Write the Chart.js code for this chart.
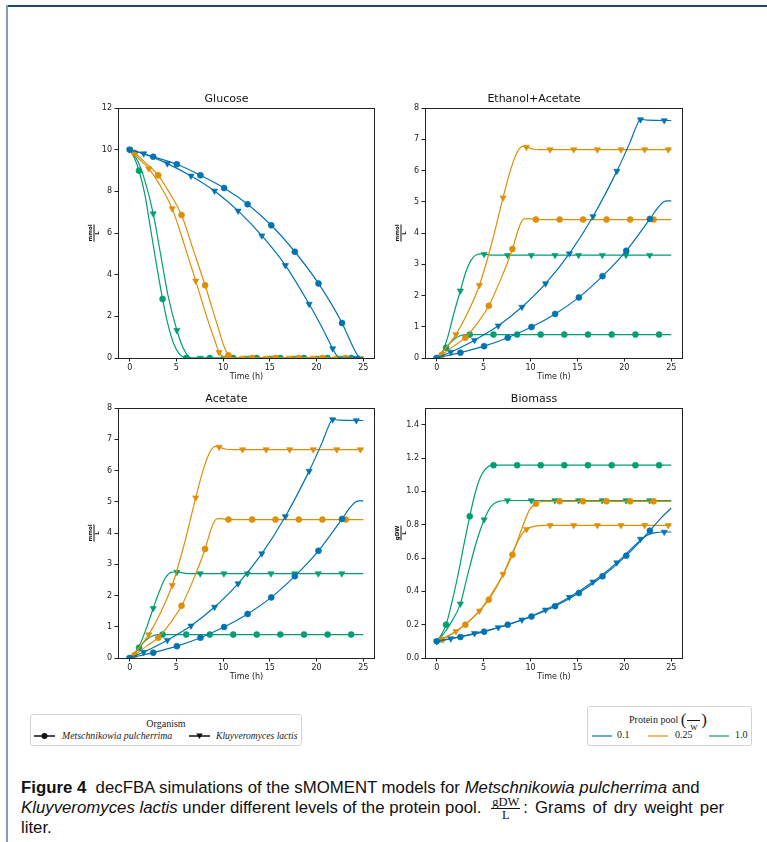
<!DOCTYPE html>
<html>
<head>
<meta charset="utf-8">
<script src="https://cdn.jsdelivr.net/npm/chart.js@4.4.0/dist/chart.umd.min.js"></script>
<style>
  body { margin: 0; width: 767px; height: 842px; background: #fff; position: relative; overflow: hidden; }
  .abs { position: absolute; }
  #frameTop { left: 6px; top: 5px; width: 761px; height: 1.5px; background: #1b4677; }
  #frameLeft { left: 6px; top: 5px; width: 2px; height: 837px; background: #7f9cc1; }
  .panel canvas { display: block; }
  .leg { position: absolute; border: 1px solid #d4d4d4; border-radius: 3px; background: #fff;
         font-family: "Liberation Serif", serif; font-size: 10px; color: #222; }
  .leg .t { position: absolute; white-space: nowrap; line-height: 12px; }
  .leg svg { position: absolute; }
  #caption { left: 21px; top: 778px; font-family: "Liberation Sans", sans-serif; font-size: 16.8px;
             line-height: 20px; color: #111; white-space: nowrap; }
  .frac { display: inline-block; vertical-align: middle; text-align: center; font-family: "Liberation Serif", serif;
          font-size: 10px; line-height: 9px; margin: 0 1px; }
  .frac .n { display: block; border-bottom: 0.8px solid #111; padding: 0 1px 1px; }
  .frac .d { display: block; padding-top: 1px; }
  #caption .frac { font-size: 12.5px; line-height: 10px; margin: -5px 3px -5px 5px; }
  #caption .wide { word-spacing: 2.5px; }
</style>
</head>
<body>
<div id="frameTop" class="abs"></div>
<div id="frameLeft" class="abs"></div>

<div class="abs panel" style="left:78px;top:84px"><canvas id="cGlc" width="307" height="304"></canvas></div>
<div class="abs panel" style="left:385px;top:84px"><canvas id="cEth" width="308" height="304"></canvas></div>
<div class="abs panel" style="left:78px;top:384px"><canvas id="cAce" width="307" height="304"></canvas></div>
<div class="abs panel" style="left:385px;top:384px"><canvas id="cBio" width="308" height="304"></canvas></div>

<div class="leg" style="left:30px;top:714px;width:270px;height:30px">
  <div class="t" style="left:0;width:270px;text-align:center;top:3px">Organism</div>
  <svg style="left:3px;top:17px" width="21" height="8"><line x1="0" y1="4" x2="21" y2="4" stroke="#111" stroke-width="1.5"/><circle cx="10.5" cy="4" r="3" fill="#111"/></svg>
  <div class="t" style="left:31px;top:15px;font-style:italic;font-size:9.8px">Metschnikowia pulcherrima</div>
  <svg style="left:158px;top:17px" width="21" height="8"><line x1="0" y1="4" x2="21" y2="4" stroke="#111" stroke-width="1.5"/><polygon points="7.3,1.5 13.7,1.5 10.5,7" fill="#111"/></svg>
  <div class="t" style="left:185px;top:15px;font-style:italic;font-size:9.6px">Kluyveromyces lactis</div>
</div>

<div class="leg" style="left:587px;top:706px;width:163px;height:38px">
  <div class="t" style="left:41px;top:3px;line-height:18px">Protein pool <span style="font-size:17px;vertical-align:-2px">(</span><span class="frac" style="width:13px"><span class="n">&nbsp;</span><span class="d">w</span></span><span style="font-size:17px;vertical-align:-2px">)</span></div>
  <svg style="left:4px;top:27px" width="20" height="4"><line x1="0" y1="2" x2="20" y2="2" stroke="#0173b2" stroke-opacity="0.6" stroke-width="2"/></svg>
  <div class="t" style="left:29px;top:22px">0.1</div>
  <svg style="left:60px;top:27px" width="20" height="4"><line x1="0" y1="2" x2="20" y2="2" stroke="#de8f05" stroke-opacity="0.6" stroke-width="2"/></svg>
  <div class="t" style="left:87px;top:22px">0.25</div>
  <svg style="left:121px;top:27px" width="20" height="4"><line x1="0" y1="2" x2="20" y2="2" stroke="#029e73" stroke-opacity="0.6" stroke-width="2"/></svg>
  <div class="t" style="left:147px;top:22px">1.0</div>
</div>

<div id="caption" class="abs"><b>Figure 4</b>&nbsp; decFBA simulations of the sMOMENT models for <i>Metschnikowia pulcherrima</i> and<br><i>Kluyveromyces lactis</i> under different levels of the protein pool. <span class="frac"><span class="n">gDW</span><span class="d">L</span></span><span class="wide">: Grams of dry weight per</span><br>liter.</div>

<script>
// ---------- data ----------
const timeTicks = [0, 5, 10, 15, 20, 25];
const concTicks8 = [0, 1, 2, 3, 4, 5, 6, 7, 8];
const glcTicks = [0, 2, 4, 6, 8, 10, 12];
const bioTicks = [0, 0.2, 0.4, 0.6, 0.8, 1.0, 1.2, 1.4];

// marker times (h) for each organism / protein pool combination
const mkMp01 = [0, 2.52, 5.05, 7.57, 10.1, 12.62, 15.15, 17.67, 20.2, 22.72];
const mkKl01 = [1.5, 4.03, 6.56, 9.08, 11.6, 14.14, 16.66, 19.2, 21.72, 24.25];
const mkMp025 = [0.53, 3.05, 5.55, 8.07, 10.57, 13.1, 15.6, 18.1, 20.62, 23.12];
const mkKl025 = [2.04, 4.55, 7.07, 9.57, 12.08, 14.6, 17.12, 19.64, 22.16, 24.68];
const mkMp1 = [1.0, 3.52, 6.05, 8.57, 11.08, 13.6, 16.12, 18.65, 21.18, 23.7];
const mkKl1 = [0, 2.52, 5.05, 7.55, 10.08, 12.6, 15.12, 17.65, 20.18, 22.7];

// Glucose (mmol/L)
const glcMp01 = [[0,10],[2.52,9.66],[5.05,9.3],[7.57,8.77],[10.1,8.16],[12.62,7.38],[15.15,6.37],[17.67,5.1],[20.2,3.58],[22.72,1.68],[23.8,0.62],[24.4,0.13],[24.8,0],[25,0]];
const glcKl01 = [[0,10],[1.5,9.81],[4.03,9.33],[6.56,8.74],[9.08,8.02],[11.6,7.06],[14.14,5.87],[16.66,4.45],[19.2,2.59],[20.6,1.45],[21.72,0.45],[22.2,0.1],[22.6,0],[25,0]];
const glcMp025 = [[0,10],[0.53,9.85],[1.5,9.45],[3.05,8.77],[4.3,7.9],[5.55,6.86],[6.8,5.2],[8.07,3.49],[9.3,1.7],[10.1,0.55],[10.57,0.13],[11.2,0],[25,0]];
const glcKl025 = [[0,10],[1,9.55],[2.04,9.09],[3.3,8.25],[4.55,7.17],[5.8,5.5],[7.07,3.7],[8.3,1.9],[9.1,0.85],[9.57,0.27],[10,0.06],[10.5,0],[25,0]];
const glcMp1 = [[0,10],[0.5,9.6],[1,8.99],[1.6,7.9],[2.2,6.3],[2.9,4.4],[3.52,2.83],[4.1,1.6],[4.7,0.7],[5.3,0.2],[5.8,0.03],[6.2,0],[25,0]];
const glcKl1 = [[0,10],[0.8,9.5],[1.6,8.55],[2.52,6.93],[3.3,5.0],[4.1,3.0],[5.05,1.33],[5.7,0.5],[6.2,0.12],[6.7,0],[25,0]];
const glcMkMp01 = [10, 9.66, 9.3, 8.77, 8.16, 7.38, 6.37, 5.1, 3.58, 1.68];
const glcMkKl01 = [9.81, 9.33, 8.74, 8.02, 7.06, 5.87, 4.45, 2.59, 0.45, 0];
const glcMkMp025 = [9.85, 8.77, 6.86, 3.49, 0.13, 0, 0, 0, 0, 0];
const glcMkKl025 = [9.09, 7.17, 3.7, 0.27, 0, 0, 0, 0, 0, 0];
const glcMkMp1 = [8.99, 2.83, 0, 0, 0, 0, 0, 0, 0, 0];
const glcMkKl1 = [10, 6.93, 1.33, 0, 0, 0, 0, 0, 0, 0];

// Ethanol+Acetate (mmol/L)
const ethMp01 = [[0,0],[2.52,0.17],[5.05,0.38],[7.57,0.65],[10.1,0.99],[12.62,1.41],[15.15,1.94],[17.67,2.62],[20.2,3.43],[22.72,4.45],[23.6,4.82],[24.2,5.0],[24.6,5.03],[25,5.03]];
const ethKl01 = [[0,0],[1.5,0.19],[4.03,0.57],[6.56,1.03],[9.08,1.63],[11.6,2.38],[14.14,3.34],[16.66,4.53],[19.2,5.98],[20.6,6.9],[21.5,7.55],[21.8,7.64],[22.4,7.61],[25,7.6]];
const ethMp025 = [[0,0],[0.53,0.1],[1.8,0.38],[3.05,0.65],[4.3,1.1],[5.55,1.67],[6.8,2.5],[8.07,3.49],[8.8,4.2],[9.3,4.45],[9.8,4.46],[10.57,4.43],[25,4.43]];
const ethKl025 = [[0,0],[1,0.33],[2.04,0.75],[3.3,1.45],[4.55,2.33],[5.8,3.6],[7.07,5.13],[7.9,6.05],[8.6,6.6],[9.2,6.77],[9.6,6.75],[10.3,6.68],[11,6.67],[25,6.67]];
const ethMp1 = [[0,0],[0.5,0.14],[1,0.33],[1.5,0.5],[2,0.63],[2.5,0.71],[3,0.745],[3.52,0.75],[25,0.75]];
const ethKl1 = [[0,0],[0.6,0.18],[1.2,0.7],[1.8,1.4],[2.52,2.15],[3.1,2.75],[3.7,3.15],[4.3,3.31],[4.8,3.33],[5.6,3.3],[7,3.29],[25,3.29]];
const ethMkMp01 = [0, 0.17, 0.38, 0.65, 0.99, 1.41, 1.94, 2.62, 3.43, 4.45];
const ethMkKl01 = [0.19, 0.57, 1.03, 1.63, 2.38, 3.34, 4.53, 5.98, 7.63, 7.6];
const ethMkMp025 = [0.1, 0.65, 1.67, 3.49, 4.43, 4.43, 4.43, 4.43, 4.43, 4.43];
const ethMkKl025 = [0.75, 2.33, 5.13, 6.75, 6.67, 6.67, 6.67, 6.67, 6.67, 6.67];
const ethMkMp1 = [0.33, 0.75, 0.75, 0.75, 0.75, 0.75, 0.75, 0.75, 0.75, 0.75];
const ethMkKl1 = [0, 2.15, 3.32, 3.29, 3.29, 3.29, 3.29, 3.29, 3.29, 3.29];

// Acetate (mmol/L): only K. lactis at 1.0 differs from Ethanol+Acetate
const aceKl1 = [[0,0],[0.6,0.15],[1.2,0.5],[1.9,1.05],[2.52,1.59],[3.2,2.15],[3.8,2.55],[4.4,2.74],[5.05,2.76],[6,2.71],[7.5,2.7],[25,2.7]];
const aceMkKl1 = [0, 1.59, 2.75, 2.7, 2.7, 2.7, 2.7, 2.7, 2.7, 2.7];

// Biomass (gDW/L)
const bioMp01 = [[0,0.1],[2.52,0.126],[5.05,0.158],[7.57,0.2],[10.1,0.249],[12.62,0.311],[15.15,0.39],[17.67,0.49],[20.2,0.614],[22.72,0.764],[24,0.845],[25,0.9]];
const bioKl01 = [[0,0.1],[1.5,0.116],[4.03,0.148],[6.56,0.183],[9.08,0.229],[11.6,0.289],[14.14,0.365],[16.66,0.457],[19.2,0.572],[21.2,0.68],[22.4,0.735],[23.3,0.752],[24.25,0.756],[25,0.756]];
const bioMp025 = [[0,0.1],[0.53,0.11],[3.05,0.2],[5.55,0.35],[6.9,0.48],[8.07,0.62],[9.1,0.78],[9.9,0.89],[10.57,0.925],[11.3,0.94],[25,0.94]];
const bioKl025 = [[0,0.1],[2.04,0.16],[4.55,0.283],[5.9,0.39],[7.07,0.503],[8.3,0.66],[9.1,0.745],[9.57,0.772],[10.4,0.79],[11.5,0.796],[25,0.796]];
const bioMp1 = [[0,0.1],[0.5,0.14],[1,0.2],[1.6,0.33],[2.2,0.48],[2.9,0.68],[3.52,0.85],[4.1,0.99],[4.7,1.09],[5.3,1.14],[5.9,1.157],[25,1.157]];
const bioKl1 = [[0,0.1],[0.8,0.15],[1.6,0.22],[2.52,0.325],[3.3,0.5],[4.2,0.69],[5.05,0.83],[5.8,0.91],[6.6,0.94],[7.55,0.945],[25,0.945]];
const bioMkMp01 = [0.1, 0.126, 0.158, 0.2, 0.249, 0.311, 0.39, 0.49, 0.614, 0.764];
const bioMkKl01 = [0.116, 0.148, 0.183, 0.229, 0.289, 0.365, 0.457, 0.572, 0.714, 0.756];
const bioMkMp025 = [0.11, 0.2, 0.35, 0.62, 0.925, 0.94, 0.94, 0.94, 0.94, 0.94];
const bioMkKl025 = [0.16, 0.283, 0.503, 0.772, 0.796, 0.796, 0.796, 0.796, 0.796, 0.796];
const bioMkMp1 = [0.2, 0.85, 1.157, 1.157, 1.157, 1.157, 1.157, 1.157, 1.157, 1.157];
const bioMkKl1 = [0.1, 0.325, 0.83, 0.945, 0.945, 0.945, 0.945, 0.945, 0.945, 0.945];

// ---------- styling ----------
const FONT = '"DejaVu Sans", sans-serif';
const BLUE = '#0173b2', ORANGE = '#de8f05', GREEN = '#029e73';
const SERIES = [
  { key: 'mp01', color: BLUE, marker: 'circle', times: mkMp01 },
  { key: 'kl01', color: BLUE, marker: 'triangle', times: mkKl01 },
  { key: 'mp025', color: ORANGE, marker: 'circle', times: mkMp025 },
  { key: 'kl025', color: ORANGE, marker: 'triangle', times: mkKl025 },
  { key: 'mp1', color: GREEN, marker: 'circle', times: mkMp1 },
  { key: 'kl1', color: GREEN, marker: 'triangle', times: mkKl1 },
];

// axes box (all four spines) + stacked unit label on the y axis
const frame = {
  id: 'frame',
  afterDraw(chart, args, opts) {
    const { ctx, chartArea: a } = chart;
    ctx.save();
    ctx.strokeStyle = '#222';
    ctx.lineWidth = 1;
    ctx.strokeRect(a.left + 0.5, a.top + 0.5, a.right - a.left - 1, a.bottom - a.top);
    // fraction label, rotated
    ctx.translate(a.left - 24, (a.top + a.bottom) / 2);
    ctx.rotate(-Math.PI / 2);
    ctx.font = 'bold 5.5px ' + FONT;
    ctx.fillStyle = '#111';
    ctx.textAlign = 'center';
    const w = Math.max(ctx.measureText(opts.num).width, ctx.measureText(opts.den).width);
    ctx.textBaseline = 'bottom';
    ctx.fillText(opts.num, 0, -0.8);
    ctx.textBaseline = 'top';
    ctx.fillText(opts.den, 0, 0.8);
    ctx.fillRect(-w / 2, -0.5, w, 1);
    ctx.restore();
  }
};

function buildDatasets(curves, marks) {
  const ds = [];
  SERIES.forEach(s => {
    ds.push({
      data: curves[s.key],
      borderColor: s.color,
      borderWidth: 1.2,
      pointRadius: 0,
      fill: false,
      cubicInterpolationMode: 'monotone'
    });
    ds.push({
      data: s.times.map((t, i) => [t, marks[s.key][i]]),
      showLine: false,
      pointStyle: s.marker,
      pointRadius: s.marker === 'triangle' ? 3.6 : 3,
      pointRotation: s.marker === 'triangle' ? 180 : 0,
      pointBackgroundColor: s.color,
      pointBorderColor: s.color,
      pointBorderWidth: 0.6
    });
  });
  return ds;
}

function drawPanel(id, title, curves, marks, yTicks, yMax, unit, fmt) {
  const tickFont = { family: FONT, size: 8 };
  new Chart(document.getElementById(id), {
    type: 'line',
    data: { datasets: buildDatasets(curves, marks) },
    options: {
      responsive: false,
      animation: false,
      events: [],
      layout: { padding: { left: 0, right: 10, top: 0, bottom: 0 } },
      plugins: {
        legend: { display: false },
        tooltip: { enabled: false },
        title: {
          display: true, text: title, color: '#111',
          font: { family: FONT, size: 11, weight: 'normal' },
          padding: { top: 9, bottom: 1.8 }
        },
        frame: unit
      },
      scales: {
        x: {
          type: 'linear', min: -1.25, max: 26.25,
          afterBuildTicks: s => { s.ticks = timeTicks.map(v => ({ value: v })); },
          afterFit: s => { s.height = 30; },
          ticks: { autoSkip: false, maxRotation: 0, padding: 1.5, color: '#222', font: tickFont },
          grid: { drawOnChartArea: false, drawTicks: true, tickLength: 3.5, tickColor: '#222', tickWidth: 1 },
          border: { display: false },
          title: { display: true, text: 'Time (h)', color: '#222', font: tickFont, padding: { top: 0, bottom: 6 } }
        },
        y: {
          type: 'linear', min: 0, max: yMax,
          afterBuildTicks: s => { s.ticks = yTicks.map(v => ({ value: v })); },
          afterFit: s => { s.width = 40; },
          ticks: { autoSkip: false, padding: 2.5, color: '#222', font: tickFont, callback: fmt },
          grid: { drawOnChartArea: false, drawTicks: true, tickLength: 3.5, tickColor: '#222', tickWidth: 1 },
          border: { display: false }
        }
      }
    },
    plugins: [frame]
  });
}

const intFmt = v => String(v);
const oneDec = v => v.toFixed(1);

drawPanel('cGlc', 'Glucose',
  { mp01: glcMp01, kl01: glcKl01, mp025: glcMp025, kl025: glcKl025, mp1: glcMp1, kl1: glcKl1 },
  { mp01: glcMkMp01, kl01: glcMkKl01, mp025: glcMkMp025, kl025: glcMkKl025, mp1: glcMkMp1, kl1: glcMkKl1 },
  glcTicks, 12, { num: 'mmol', den: 'L' }, intFmt);

drawPanel('cEth', 'Ethanol+Acetate',
  { mp01: ethMp01, kl01: ethKl01, mp025: ethMp025, kl025: ethKl025, mp1: ethMp1, kl1: ethKl1 },
  { mp01: ethMkMp01, kl01: ethMkKl01, mp025: ethMkMp025, kl025: ethMkKl025, mp1: ethMkMp1, kl1: ethMkKl1 },
  concTicks8, 8, { num: 'mmol', den: 'L' }, intFmt);

drawPanel('cAce', 'Acetate',
  { mp01: ethMp01, kl01: ethKl01, mp025: ethMp025, kl025: ethKl025, mp1: ethMp1, kl1: aceKl1 },
  { mp01: ethMkMp01, kl01: ethMkKl01, mp025: ethMkMp025, kl025: ethMkKl025, mp1: ethMkMp1, kl1: aceMkKl1 },
  concTicks8, 8, { num: 'mmol', den: 'L' }, intFmt);

drawPanel('cBio', 'Biomass',
  { mp01: bioMp01, kl01: bioKl01, mp025: bioMp025, kl025: bioKl025, mp1: bioMp1, kl1: bioKl1 },
  { mp01: bioMkMp01, kl01: bioMkKl01, mp025: bioMkMp025, kl025: bioMkKl025, mp1: bioMkMp1, kl1: bioMkKl1 },
  bioTicks, 1.5, { num: 'gDW', den: 'L' }, oneDec);
</script>
</body>
</html>
